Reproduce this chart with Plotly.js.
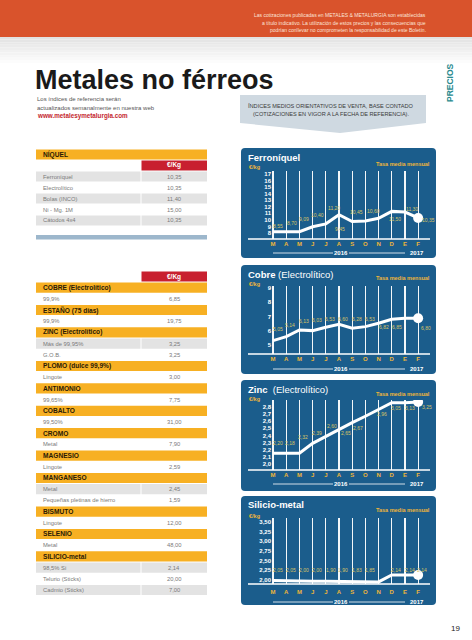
<!DOCTYPE html>
<html><head><meta charset="utf-8">
<script src="https://cdn.plot.ly/plotly-3.0.1.min.js"></script>
<style>html,body{margin:0;padding:0;background:#fff;}#chart{width:472px;height:640px;}</style>
</head><body><div id="chart"></div>
<script>
// ---------------- DATA ----------------
const months = ['M','A','M','J','J','A','S','O','N','D','E','F'];
const yearLabels = ['2016','2017'];

const ferroValues = [8.2, 8.2, 8.2, 8.95, 9.4, 10.8, 9.75, 9.85, 10.25, 11.3, 11.2, 10.3];
const ferroLabels = ['8,55','8,70','9,09','10,40','11,20','9,45','10,45','10,60','','11,50','11,30','10,35'];
const ferroTicks = [8,9,10,11,12,13,14,15,16,17];

const cobreValues = [5.31, 5.59, 6.06, 6.01, 6.25, 6.46, 6.18, 6.29, 6.53, 6.81, 6.88, 6.88];
const cobreLabels = ['5,05','5,14','6,13','6,03','6,53','6,60','6,28','6,53','6,82','6,85','','6,80'];
const cobreTicks = [5,6,7,8,9];

const zincValues = [2.15, 2.15, 2.15, 2.29, 2.39, 2.48, 2.58, 2.67, 2.77, 2.86, 2.86, 2.87];
const zincLabels = ['2,20','2,18','2,32','2,39','2,60','2,65','2,67','','2,96','3,05','3,13','3,25'];
const zincTicks = [2.0,2.1,2.2,2.3,2.4,2.5,2.6,2.7,2.8];

const silicioValues = [1.99, 1.98, 1.98, 1.97, 1.97, 1.96, 1.96, 1.95, 1.95, 2.13, 2.13, 2.13];
const silicioLabels = ['2,05','2,05','2,00','2,00','1,90','1,90','1,83','1,85','','2,14','2,14','2,14'];
const silicioTicks = [2.00,2.25,2.50,2.75,3.00,3.25,3.50];

const priceHeader = '€/Kg';
const niquelName = 'NÍQUEL';
const niquelItems = ['Ferroníquel','Electrolítico','Bolas (INCO)','Ni - Mg. 1M','Cátodos 4x4'];
const niquelPrices = ['10,35','10,35','11,40','15,00','10,35'];

const sectionNames = ['COBRE (Electrolítico)','ESTAÑO (75 días)','ZINC (Electrolítico)','PLOMO (dulce 99,9%)','ANTIMONIO','COBALTO','CROMO','MAGNESIO','MANGANESO','BISMUTO','SELENIO','SILICIO-metal'];
const sectionItems = [['99,9%'],['99,9%'],['Más de 99,95%','G.O.B.'],['Lingote'],['99,65%'],['99,50%'],['Metal'],['Lingote'],['Metal','Pequeñas pletinas de hierro'],['Lingote'],['Metal'],['98,5% Si','Telurio (Sticks)','Cadmio (Sticks)']];
const sectionPrices = [['6,85'],['19,75'],['3,25','3,25'],['3,00'],['7,75'],['31,00'],['7,90'],['2,59'],['2,45','1,59'],['12,00'],['48,00'],['2,14','20,00','7,00']];

// ---------------- STYLE / LAYOUT ----------------
const W = 472, H = 640;
const PX = v => v / W, PY = v => 1 - v / H;
const BASE = 'Liberation Sans, Arial, sans-serif';
function hasFont(f){const c=document.createElement('canvas').getContext('2d');const s='abcdefghijklmABCDEFGHIJ';c.font='20px monospace';const a=c.measureText(s).width;c.font='20px "'+f+'", monospace';return c.measureText(s).width!==a;}
const narrowOK = hasFont('Liberation Sans Narrow');
const NARROW = narrowOK ? '"Liberation Sans Narrow", Liberation Sans, sans-serif' : BASE;
const NS = narrowOK ? 1 : 0.8;

const ORANGE='#d9532c', BLUE='#1b5d8c', GOLD='#eeb53a', LBL='#d8c466', YEL='#f7b023', RED='#c8202f', GRAY='#e3e3e3', DARK='#2a1a05', TXT='#7a7a7a';

const chartCfg = [
  {name:'<b>Ferroníquel</b>', values:ferroValues, labels:ferroLabels, ticks:ferroTicks, fmt:'d',
   top:148, bottom:258, gridTop:171, axisY:239, titleY:157, unitY:167, tasaY:164, yearY:253, yr:[7.09,17.46], standoff:0,
   lx:[5.3,5.7,4.3,4.7,8.3,1,4.7,8.3,0,3,6.7,10.3], ly:[5.7,8.4,12.4,11.5,16.1,-14.7,9.5,9.6,0,-7.9,2.7,-2.3]},
  {name:'<b>Cobre</b> (Electrolítico)', values:cobreValues, labels:cobreLabels, ticks:cobreTicks, fmt:'d',
   top:265, bottom:374, gridTop:286, axisY:354, titleY:274, unitY:284, tasaY:278, yearY:369, yr:[4.37,9.14], standoff:0,
   lx:[5.3,4,4.3,4.7,4,4.3,4.7,5,5.3,5.7,0,7.7], ly:[11.6,11.6,8.9,10.3,7.9,5.2,9.2,7.6,-3.5,-7.5,0,-9.5]},
  {name:'<b>Zinc</b>  (Electrolítico)', values:zincValues, labels:zincLabels, ticks:zincTicks, fmt:'.1f',
   top:380, bottom:491, gridTop:400, axisY:470, titleY:389, unitY:399, tasaY:394, yearY:484, yr:[1.916,2.898], standoff:0,
   lx:[5.3,4,3.3,4.7,5.7,7,6.3,0,3.7,4.7,5,8.7], ly:[10,10,16,10,10.2,-3.5,-5.6,0,-5.2,-5,-5,-5]},
  {name:'<b>Silicio-metal</b>', values:silicioValues, labels:silicioLabels, ticks:silicioTicks, fmt:'.2f',
   top:496, bottom:605, gridTop:518, axisY:584, titleY:504, unitY:516, tasaY:510, yearY:602, yr:[1.897,3.603], standoff:3,
   lx:[5.3,4.7,4.3,4.3,5,4.3,4.7,5,0,4,5,3.7], ly:[10.4,10.8,10.8,11.2,11.2,11.5,11.5,11.9,0,5,5,5]}
];

function rr(x0,y0,x1,y1,r){
  const X=v=>PX(v).toFixed(5), Y=v=>PY(v).toFixed(5);
  return `M${X(x0+r)},${Y(y0)} L${X(x1-r)},${Y(y0)} Q${X(x1)},${Y(y0)} ${X(x1)},${Y(y0+r)} L${X(x1)},${Y(y1-r)} Q${X(x1)},${Y(y1)} ${X(x1-r)},${Y(y1)} L${X(x0+r)},${Y(y1)} Q${X(x0)},${Y(y1)} ${X(x0)},${Y(y1-r)} L${X(x0)},${Y(y0+r)} Q${X(x0)},${Y(y0)} ${X(x0+r)},${Y(y0)} Z`;
}
function rect(x0,y0,x1,y1,color,layer){return {type:'rect',xref:'paper',yref:'paper',x0:PX(x0),x1:PX(x1),y0:PY(y1),y1:PY(y0),fillcolor:color,line:{width:0},layer:layer||'below'};}
function hline(x0,x1,y,color,w){return {type:'line',xref:'paper',yref:'paper',x0:PX(x0),x1:PX(x1),y0:PY(y),y1:PY(y),line:{color:color,width:w},layer:'above'};}
function txt(x,y,text,size,color,opts){return Object.assign({xref:'paper',yref:'paper',x:PX(x),y:PY(y),text:text,showarrow:false,xanchor:'left',yanchor:'middle',font:{family:BASE,size:size,color:color}},opts||{});}

const shapes = [], annotations = [], traces = [];
const layout = {width:W,height:H,margin:{l:0,r:0,t:0,b:0},paper_bgcolor:'#ffffff',plot_bgcolor:'rgba(0,0,0,0)',showlegend:false,separators:',.',shapes:shapes,annotations:annotations};

// Header band
shapes.push(rect(0,0,W,37,ORANGE));
for(let i=0;i<10;i++){const g=Math.round(226+i*2.9);shapes.push(rect(0,37+i*2.6,W,37+(i+1)*2.6,`rgb(${g},${g},${g})`));}
const disc = ['Las cotizaciones publicadas en METALES &amp; METALURGIA son establecidas','a título indicativo. La utilización de estos precios y las consecuencias que','podrían conllevar no comprometen la responsabilidad de este Boletín.'];
disc.forEach((t,i)=>annotations.push(txt(428,15.3+i*7.2,t,6.3*NS,'#fbe3d8',{xanchor:'right',font:{family:NARROW,size:6.3*NS,color:'#fbe3d8'}})));
annotations.push(txt(33,80,'<b>Metales no férreos</b>',27,'#1a1a1a',{font:{family:BASE,size:27,color:'#1a1a1a'}}));
annotations.push(txt(35,99,'Los índices de referencia serán',6,'#555'));
annotations.push(txt(35,107.5,'actualizados semanalmente en nuestra web',6,'#555'));
annotations.push(txt(35,116,'<b>www.metalesymetalurgia.com</b>',6.3,'#c4262e'));
shapes.push({type:'path',xref:'paper',yref:'paper',layer:'below',fillcolor:'#cfd9e1',line:{width:0},
  path:`M${PX(240)},${PY(95)} L${PX(426)},${PY(95)} L${PX(426)},${PY(123)} L${PX(340)},${PY(133)} L${PX(240)},${PY(123)} Z`});
annotations.push(txt(331,106,'ÍNDICES MEDIOS ORIENTATIVOS DE VENTA, BASE CONTADO',7*NS,'#3a3a3a',{xanchor:'center',font:{family:NARROW,size:7*NS,color:'#3a3a3a'}}));
annotations.push(txt(331,114,'(COTIZACIONES EN VIGOR A LA FECHA DE REFERENCIA).',7*NS,'#3a3a3a',{xanchor:'center',font:{family:NARROW,size:7*NS,color:'#3a3a3a'}}));
annotations.push(txt(450,83,'<b>PRECIOS</b>',8.5,'#2a8a8e',{xanchor:'center',textangle:-90}));
annotations.push(txt(455,628,'19',8,'#222',{xanchor:'center'}));

// ---------------- TABLES (shapes + text built from arrays) ----------------
const TX0=36, TX1=207, TSPLIT=141;
const dataFont = narrowOK ? NARROW : BASE, dataSize = narrowOK ? 6.6 : 5.8;
function sectionRow(y,h,name){
  shapes.push(rect(TX0,y+0.5,TX1,y+h-0.5,YEL));
  annotations.push(txt(TX0+5,y+h/2,'<b>'+name+'</b>',6.6,DARK));
}
function headerRow(y,h){
  shapes.push(rect(TSPLIT+0.5,y+0.5,TX1,y+h-0.5,RED));
  annotations.push(txt((TSPLIT+TX1)/2,y+h/2,'<b>'+priceHeader+'</b>',6.5,'#ffffff',{xanchor:'center'}));
}
function itemRow(y,h,item,price,shaded){
  if(shaded){shapes.push(rect(TX0,y+0.5,TSPLIT-0.5,y+h-0.5,GRAY));shapes.push(rect(TSPLIT+0.5,y+0.5,TX1,y+h-0.5,GRAY));}
  annotations.push(txt(TX0+5,y+h/2,item,dataSize,TXT,{font:{family:dataFont,size:dataSize,color:TXT}}));
  annotations.push(txt((TSPLIT+TX1)/2,y+h/2,price,dataSize,TXT,{xanchor:'center',font:{family:dataFont,size:dataSize,color:TXT}}));
}
// Níquel
{
  let y=149; const h=11;
  sectionRow(y,h,niquelName); y+=h;
  headerRow(y,h); y+=h;
  niquelItems.forEach((it,j)=>{itemRow(y,h,it,niquelPrices[j],j%2===0); y+=h;});
  shapes.push(rect(TX0,235,TX1,239.5,'#9db7cc'));
}
// Rest
{
  let y=271; headerRow(y,11); y+=11; const h=11.2;
  sectionNames.forEach((s,i)=>{
    sectionRow(y,h,s); y+=h;
    const multi=sectionItems[i].length>1;
    sectionItems[i].forEach((it,j)=>{itemRow(y,h,it,sectionPrices[i][j],multi&&j%2===0); y+=h;});
  });
}

// ---------------- CHARTS ----------------
chartCfg.forEach((ch,k)=>{
  const n = k===0 ? '' : String(k+1);
  const xa='x'+n, ya='y'+n;
  shapes.push({type:'path',xref:'paper',yref:'paper',layer:'below',fillcolor:BLUE,line:{width:0},path:rr(241,ch.top,436,ch.bottom,4)});
  layout['xaxis'+n] = {domain:[PX(272),PX(430)],anchor:ya,range:[-0.08,11.9],tickvals:months.map((_,i)=>i),ticktext:months,
    showgrid:true,gridcolor:'rgba(255,255,255,0.95)',gridwidth:1.2,zeroline:false,showline:false,ticks:'',ticklabelstandoff:ch.standoff,
    tickfont:{family:BASE,size:6,color:GOLD,weight:'bold'},fixedrange:true};
  layout['yaxis'+n] = {domain:[PY(ch.axisY),PY(ch.gridTop)],anchor:xa,range:ch.yr,tickvals:ch.ticks,tickformat:ch.fmt,
    showgrid:false,zeroline:false,showline:false,ticks:'',tickfont:{family:BASE,size:6,color:'#ffffff',weight:'bold'},fixedrange:true};
  traces.push({type:'scatter',mode:'lines',x:months.map((_,i)=>i),y:ch.values,xaxis:xa,yaxis:ya,line:{color:'#ffffff',width:3},hoverinfo:'skip'});
  const last=ch.values.length-1;
  traces.push({type:'scatter',mode:'markers',x:[last],y:[ch.values[last]],xaxis:xa,yaxis:ya,marker:{color:'#ffffff',size:10},hoverinfo:'skip'});
  ch.labels.forEach((t,i)=>{ if(!t) return;
    annotations.push({xref:xa,yref:ya,x:i,y:ch.values[i],text:t,showarrow:false,xshift:ch.lx[i],yshift:ch.ly[i],xanchor:'center',yanchor:'middle',font:{family:BASE,size:5,color:LBL}});
  });
  shapes.push(hline(248,430,ch.axisY,'#ffffff',1.3));
  annotations.push(txt(246,ch.titleY,ch.name,9.5,'#ffffff'));
  annotations.push(txt(247,ch.unitY,'<b>€/kg</b>',5.5,GOLD));
  annotations.push(txt(432,ch.tasaY,'<b>Tasa media mensual</b>',5.5,GOLD,{xanchor:'right'}));
  annotations.push(txt(341,ch.yearY,'<b>'+yearLabels[0]+'</b>',6,'#ffffff',{xanchor:'center'}));
  annotations.push(txt(417,ch.yearY,'<b>'+yearLabels[1]+'</b>',6,'#ffffff',{xanchor:'center'}));
  shapes.push(hline(273,333,ch.yearY,'#ffffff',0.8));
  shapes.push(hline(349,405,ch.yearY,'#ffffff',0.8));
});

Plotly.newPlot('chart', traces, layout, {displayModeBar:false, staticPlot:true});
</script>
</body></html>
